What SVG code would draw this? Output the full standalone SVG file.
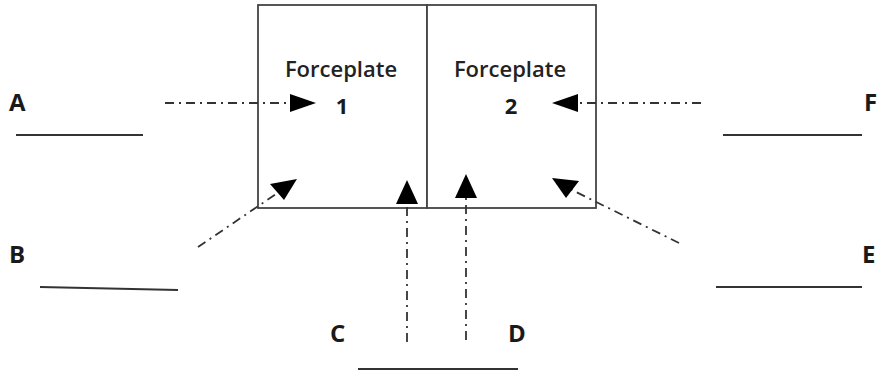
<svg xmlns="http://www.w3.org/2000/svg" width="880" height="373" viewBox="0 0 880 373">
<style>
.box{fill:#fff;stroke:#444;stroke-width:1.8}
.lbl{font-family:"Open Sans","Liberation Sans",sans-serif;font-size:22px;font-weight:600;fill:#222}
.num{font-family:"Open Sans","Liberation Sans",sans-serif;font-size:22px;font-weight:bold;fill:#1a1a1a}
.let{font-family:"Open Sans","Liberation Sans",sans-serif;font-size:24px;font-weight:bold;fill:#1a1a1a}
.blank{stroke:#333;stroke-width:2;fill:none}
.dd{stroke:#333;stroke-width:1.8;fill:none;stroke-dasharray:9 5 2 5}
.head{fill:#000}
</style>
<rect width="880" height="373" fill="#fff"/>
<g id="plate1">
<rect class="box" x="258" y="5" width="169" height="203"/>
<text class="lbl" x="341" y="77" text-anchor="middle">Forceplate</text>
<text class="num" x="342" y="114" text-anchor="middle">1</text>
</g>
<g id="plate2">
<rect class="box" x="427" y="5" width="169" height="203"/>
<text class="lbl" x="510" y="77" text-anchor="middle">Forceplate</text>
<text class="num" x="511" y="114" text-anchor="middle">2</text>
</g>
<g id="labelA"><text class="let" x="9" y="111">A</text><line class="blank" x1="16" y1="135" x2="143" y2="135"/></g>
<g id="labelB"><text class="let" x="9" y="263">B</text><line class="blank" x1="40" y1="287" x2="178" y2="290"/></g>
<g id="labelC"><text class="let" x="330" y="342">C</text></g>
<g id="labelD"><text class="let" x="508" y="342">D</text><line class="blank" x1="358" y1="369" x2="518" y2="369"/></g>
<g id="labelE"><text class="let" x="862" y="263">E</text><line class="blank" x1="716" y1="287" x2="862" y2="287"/></g>
<g id="labelF"><text class="let" x="864" y="111">F</text><line class="blank" x1="723" y1="135" x2="862" y2="135"/></g>
<g id="connectors">
<line class="dd" x1="165" y1="103" x2="292" y2="103"/>
<polygon class="head" points="316,103 290,94 290,112"/>
<line class="dd" x1="701" y1="103" x2="576" y2="103"/>
<polygon class="head" points="552,103 578,94 578,112"/>
<line class="dd" x1="198" y1="247" x2="279" y2="192"/>
<polygon class="head" points="297,179 270,184 284,200"/>
<line class="dd" x1="679" y1="243" x2="570" y2="189"/>
<polygon class="head" points="552,178 566,198 579,181"/>
<line class="dd" x1="407" y1="342" x2="407" y2="200"/>
<polygon class="head" points="407,180 396,204 418,204"/>
<line class="dd" x1="466" y1="340" x2="466" y2="195"/>
<polygon class="head" points="466,174 455,198 477,198"/>
</g>
</svg>
